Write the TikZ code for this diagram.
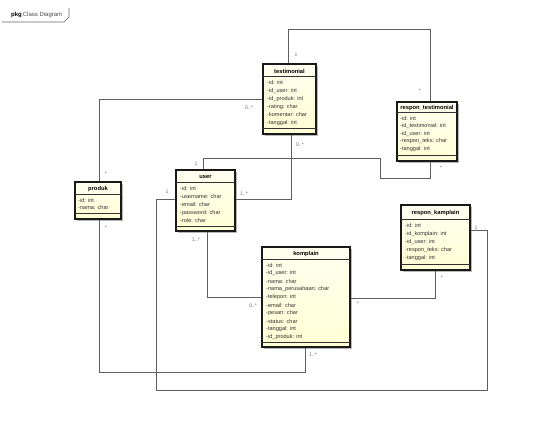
\documentclass[tikz,border=0pt]{standalone}
\usepackage{fontspec}
\setmainfont{Liberation Sans}
\usetikzlibrary{fit,shadows}
\definecolor{classfill}{RGB}{255,255,212}
\definecolor{classtop}{RGB}{255,255,240}
\definecolor{linegray}{RGB}{95,95,95}
\tikzset{
  classbox/.style={draw=black!90, line width=1.1pt, top color=classtop, bottom color=classfill,
    inner sep=0pt, drop shadow={shadow xshift=1.6pt, shadow yshift=-1.6pt, fill=black!50, opacity=0.55}},
  classtitle/.style={font=\fontsize{5.8}{6.5}\selectfont\bfseries, inner sep=0pt},
  attr/.style={font=\fontsize{5.6}{6.5}\selectfont, anchor=west, inner sep=0pt, text=black!80},
  sepline/.style={draw=black!80, line width=0.6pt},
  assoc/.style={draw=linegray, line width=0.9pt},
  mult/.style={font=\fontsize{5.2}{6}\selectfont, text=black!55, inner sep=0pt},
  tabline/.style={draw=black!60, line width=0.7pt},
}
\begin{document}
\begin{tikzpicture}[x=1pt, y=-1pt]
\useasboundingbox[fill=white] (0,0) rectangle (536,443);

% package tab
\node[font=\fontsize{6}{7}\selectfont, anchor=west, inner sep=0pt] (pkgtitle) at (11,15)
  {\textbf{pkg}\,{\color{black!70}Class Diagram}};
\draw[tabline] (2,22) -- (64,22) -- (69,17) -- (69,8);

% ---------- associations (drawn first, below the classes) ----------
\coordinate (a1) at (288,29);  \coordinate (a2) at (430,29);
\coordinate (b1) at (99,99);
\coordinate (c1) at (291,199);
\coordinate (d1) at (203,158); \coordinate (d2) at (380,158);
\coordinate (d3) at (380,178); \coordinate (d4) at (430,178);
\coordinate (e1) at (207,297);
\coordinate (f1) at (156,199); \coordinate (f2) at (156,390);
\coordinate (f3) at (487,390); \coordinate (f4) at (487,230);
\coordinate (g1) at (305,372); \coordinate (g2) at (99,372);
\coordinate (h1) at (435,298);

% ---------- classes ----------
% testimonial
\node[classbox, fit={(263,64) (316,134)}] (testimonial) {};
\node[classtitle] (testimonialT) at (289.5,71) {testimonial};
\draw[sepline] (263,76.5) -- (316,76.5);
\draw[sepline] (263,128) -- (316,128);
\foreach \t [count=\i from 0] in {-id: int, -id\_user: int, -id\_produk: int, -rating: char, -komentar: char, -tanggal: int}
  \node[attr] at (267,{83+8*\i}) {\t};

% respon_testimonial
\node[classbox, fit={(397,102) (457,161)}] (respon_testimonial) {};
\node[classtitle] (respon_testimonialT) at (427,108) {respon\_testimonial};
\draw[sepline] (397,112.5) -- (457,112.5);
\draw[sepline] (397,155) -- (457,155);
\foreach \t [count=\i from 0] in {-id: int, -id\_testimonial: int, -id\_user: int, -respon\_teks: char, -tanggal: int}
  \node[attr] at (400,{119+7.5*\i}) {\t};

% user
\node[classbox, fit={(176,170) (235,231)}] (user) {};
\node[classtitle] (userT) at (205.5,177) {user};
\draw[sepline] (176,182) -- (235,182);
\draw[sepline] (176,226) -- (235,226);
\foreach \t [count=\i from 0] in {-id: int, -username: char, -email: char, -password: char, -role: char}
  \node[attr] at (180,{189+8*\i}) {\t};

% produk
\node[classbox, fit={(75,182) (121,219)}] (produk) {};
\node[classtitle] (produkT) at (98,189) {produk};
\draw[sepline] (75,194) -- (121,194);
\draw[sepline] (75,213) -- (121,213);
\foreach \t [count=\i from 0] in {-id: int, -nama: char}
  \node[attr] at (78,{200.5+7*\i}) {\t};

% respon_kamplain
\node[classbox, fit={(401,205) (470,270)}] (respon_kamplain) {};
\node[classtitle] (respon_kamplainT) at (435.5,213) {respon\_kamplain};
\draw[sepline] (401,219) -- (470,219);
\draw[sepline] (401,264) -- (470,264);
\foreach \t [count=\i from 0] in {-id: int, -id\_komplain: int, -id\_user: int, -respon\_teks: char, -tanggal: int}
  \node[attr] at (405,{226+8*\i}) {\t};

% komplain
\node[classbox, fit={(262,247) (350,347)}] (komplain) {};
\node[classtitle] (komplainT) at (306,254) {komplain};
\draw[sepline] (262,259) -- (350,259);
\draw[sepline] (262,342) -- (350,342);
\foreach \t [count=\i from 0] in {-id: int, -id\_user: int, -nama: char, -nama\_perusahaan: char, -telepon: int, -email: char, -pesan: char, -status: char, -tanggal: int, -id\_produk: int}
  \node[attr] at (266,{265.5+8*\i}) {\t};

% associations between the classes
\draw[assoc] (testimonial.north -| a1) -- (a1) -- (a2) -- (respon_testimonial.north -| a2);
\draw[assoc] (testimonial.west |- b1) -- (b1) -- (produk.north -| b1);
\draw[assoc] (testimonial.south -| c1) -- (c1) -- (user.east |- c1);
\draw[assoc] (user.north -| d1) -- (d1) -- (d2) -- (d3) -- (d4) -- (respon_testimonial.south -| d4);
\draw[assoc] (user.south -| e1) -- (e1) -- (komplain.west |- e1);
\draw[assoc] (user.west |- f1) -- (f1) -- (f2) -- (f3) -- (f4) -- (respon_kamplain.east |- f4);
\draw[assoc] (komplain.south -| g1) -- (g1) -- (g2) -- (produk.south -| g2);
\draw[assoc] (komplain.east |- h1) -- (h1) -- (respon_kamplain.south -| h1);

% multiplicities
\node[mult] (mA1) at (296,55) {1};
\node[mult] (mA2) at (420,91) {*};
\node[mult] (mB1) at (249,108) {0..*};
\node[mult] (mB2) at (106,174) {*};
\node[mult] (mC1) at (300,145) {0..*};
\node[mult] (mC2) at (244,194) {1..*};
\node[mult] (mD1) at (196,164) {1};
\node[mult] (mD2) at (441,168) {*};
\node[mult] (mE1) at (196,240) {1..*};
\node[mult] (mE2) at (253,306) {0..*};
\node[mult] (mF1) at (167,192) {1};
\node[mult] (mF2) at (476,228) {1};
\node[mult] (mG1) at (313,355) {1..*};
\node[mult] (mG2) at (106,228) {*};
\node[mult] (mH1) at (358,304) {*};
\node[mult] (mH2) at (442,278) {*};
\end{tikzpicture}
\end{document}
